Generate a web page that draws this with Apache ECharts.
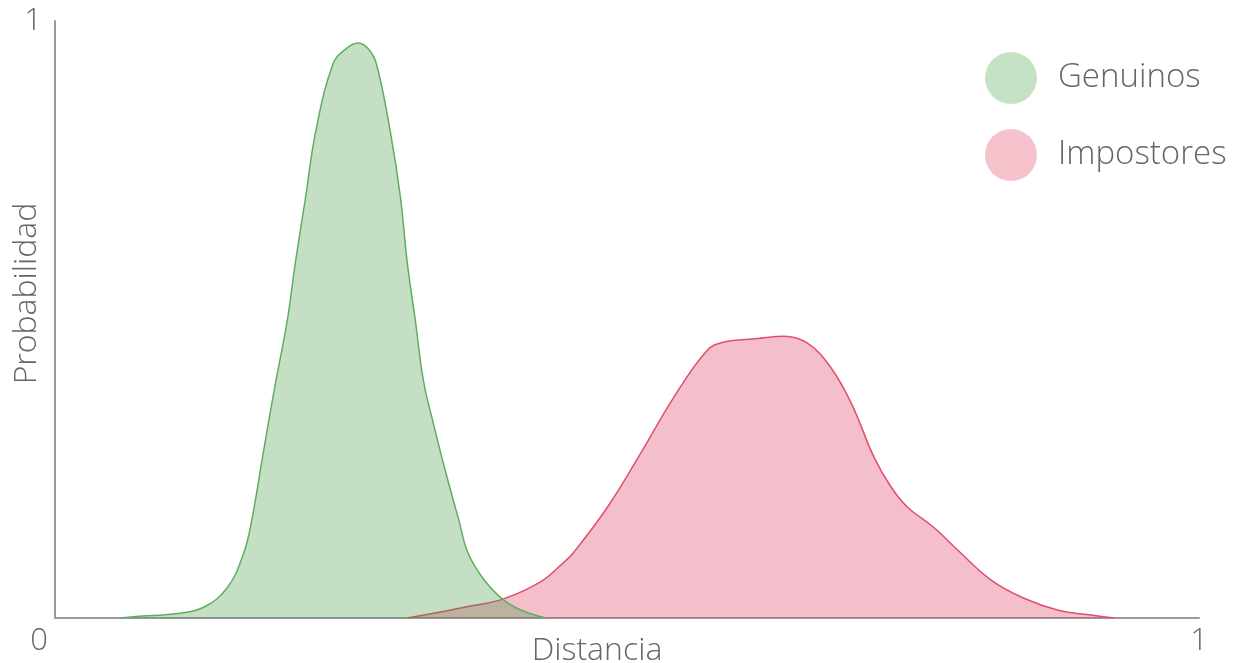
<!DOCTYPE html>
<html>
<head>
<meta charset="UTF-8">
<title>Distancia</title>
<script src="https://cdn.jsdelivr.net/npm/echarts@6/dist/echarts.min.js"></script>
<style>
  html, body { margin: 0; padding: 0; background: #fff; }
  #chart { width: 1238px; height: 663px; }
</style>
</head>
<body>
<div id="chart"></div>
<script>
// distancia (x) y probabilidad (y)
var genuinosX = [0.057, 0.074, 0.105, 0.130, 0.151, 0.165, 0.172, 0.182, 0.192, 0.203, 0.210, 0.219, 0.228, 0.243, 0.254, 0.265, 0.274, 0.281, 0.293, 0.302, 0.308, 0.315, 0.322, 0.331, 0.341, 0.353, 0.361, 0.375, 0.389, 0.402, 0.416, 0.429];
var genuinosY = [0, 0.003, 0.007, 0.018, 0.052, 0.109, 0.164, 0.276, 0.386, 0.498, 0.594, 0.704, 0.816, 0.928, 0.953, 0.963, 0.953, 0.928, 0.816, 0.704, 0.594, 0.498, 0.398, 0.324, 0.248, 0.164, 0.109, 0.064, 0.035, 0.018, 0.007, 0];

var impostoresX = [0.308, 0.337, 0.363, 0.392, 0.424, 0.444, 0.453, 0.483, 0.512, 0.541, 0.570, 0.584, 0.614, 0.637, 0.658, 0.678, 0.696, 0.716, 0.731, 0.745, 0.768, 0.789, 0.818, 0.847, 0.877, 0.906, 0.926];
var impostoresY = [0, 0.010, 0.020, 0.032, 0.060, 0.092, 0.109, 0.186, 0.276, 0.370, 0.448, 0.462, 0.468, 0.472, 0.460, 0.420, 0.360, 0.269, 0.219, 0.186, 0.152, 0.114, 0.064, 0.033, 0.013, 0.005, 0];

var seriesNames = ['Genuinos', 'Impostores'];

function pares(xs, ys) {
  var out = [];
  for (var i = 0; i < xs.length; i++) out.push([xs[i], ys[i]]);
  return out;
}

var chart = echarts.init(document.getElementById('chart'));
var fuente = '"Open Sans"';
var peso = 300;
var gris = '#666666';

var option = {
  animation: false,
  grid: { left: 55, right: 39, top: 21, bottom: 45, containLabel: false, outerBoundsMode: 'none' },
  legend: {
    orient: 'vertical',
    left: 980,
    top: 47,
    icon: 'circle',
    itemWidth: 52,
    itemHeight: 52,
    itemGap: 25,
    selectedMode: false,
    textStyle: { color: gris, fontSize: 33, fontFamily: fuente, fontWeight: peso, padding: [10, 0, 0, 16] },
    data: [
      { name: seriesNames[0], itemStyle: { color: '#c5e2c5', borderWidth: 0 } },
      { name: seriesNames[1], itemStyle: { color: '#f5c2cc', borderWidth: 0 } }
    ]
  },
  xAxis: {
    type: 'value',
    min: 0,
    max: 1,
    interval: 1,
    name: 'Distancia',
    nameLocation: 'middle',
    nameGap: 17,
    nameMoveOverlap: false,
    nameTextStyle: { color: gris, fontSize: 32, fontFamily: fuente, fontWeight: peso, padding: [0, 60, 0, 0] },
    axisLine: { lineStyle: { color: '#9a9a9a', width: 2 } },
    axisTick: { show: false },
    splitLine: { show: false },
    axisLabel: {
      color: gris,
      fontSize: 31,
      fontFamily: fuente,
      fontWeight: peso,
      margin: 8,
      alignMinLabel: 'right',
      formatter: function (v) { return v === 0 ? '{z|0}' : String(v); },
      rich: { z: { fontSize: 31, fontFamily: fuente, fontWeight: peso, color: gris, padding: [0, 7, 0, 0] } }
    }
  },
  yAxis: {
    type: 'value',
    min: 0,
    max: 1,
    interval: 1,
    name: 'Probabilidad',
    nameLocation: 'middle',
    nameGap: 12,
    nameMoveOverlap: false,
    nameTextStyle: { color: gris, fontSize: 32, fontFamily: fuente, fontWeight: peso, padding: [0, 0, 0, 52] },
    axisLine: { show: true, lineStyle: { color: '#9a9a9a', width: 2 } },
    axisTick: { show: false },
    splitLine: { show: false },
    axisLabel: {
      color: gris,
      fontSize: 31,
      fontFamily: fuente,
      fontWeight: peso,
      margin: 13,
      formatter: function (v) { return v === 0 ? '' : String(v); }
    }
  },
  series: [
    {
      name: seriesNames[1],
      type: 'line',
      smooth: 0.4,
      symbol: 'none',
      data: pares(impostoresX, impostoresY),
      lineStyle: { color: '#e0506e', width: 1.5 },
      itemStyle: { color: '#f5c2cc' },
      areaStyle: { color: 'rgba(220,40,80,0.3)', opacity: 1 },
      z: 2
    },
    {
      name: seriesNames[0],
      type: 'line',
      smooth: 0.4,
      symbol: 'none',
      data: pares(genuinosX, genuinosY),
      lineStyle: { color: '#5fae5f', width: 1.5 },
      itemStyle: { color: '#c5e2c5' },
      areaStyle: { color: 'rgba(60,150,60,0.3)', opacity: 1 },
      z: 3
    }
  ]
};

chart.setOption(option);
</script>
</body>
</html>
